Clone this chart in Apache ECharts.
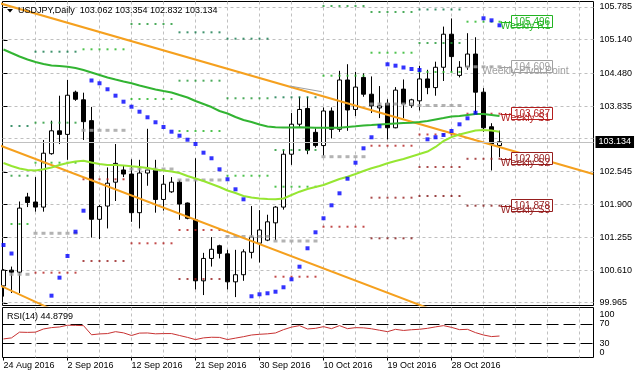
<!DOCTYPE html>
<html><head><meta charset="utf-8">
<script src="https://cdn.jsdelivr.net/npm/echarts@6/dist/echarts.min.js"></script>
<style>html,body{margin:0;padding:0;background:#fff}#c{width:636px;height:379px}</style>
</head><body><div id="c"></div>
<script>
// ---------------- DATA ----------------
const symbolName = 'USDJPY';
const timeframe = 'Daily';
const dates = ['2016-08-24','2016-08-25','2016-08-26','2016-08-28','2016-08-29','2016-08-30','2016-08-31','2016-09-01','2016-09-02','2016-09-04','2016-09-05','2016-09-06','2016-09-07','2016-09-08','2016-09-09','2016-09-11','2016-09-12','2016-09-13','2016-09-14','2016-09-15','2016-09-16','2016-09-18','2016-09-19','2016-09-20','2016-09-21','2016-09-22','2016-09-23','2016-09-25','2016-09-26','2016-09-27','2016-09-28','2016-09-29','2016-09-30','2016-10-02','2016-10-03','2016-10-04','2016-10-05','2016-10-06','2016-10-07','2016-10-09','2016-10-10','2016-10-11','2016-10-12','2016-10-13','2016-10-14','2016-10-16','2016-10-17','2016-10-18','2016-10-19','2016-10-20','2016-10-21','2016-10-23','2016-10-24','2016-10-25','2016-10-26','2016-10-27','2016-10-28','2016-10-30','2016-10-31','2016-11-01','2016-11-02','2016-11-03','2016-11-04'];
const opens  = [100.30,100.61,100.57,102.05,101.95,101.85,102.90,103.35,103.28,104.11,103.96,103.55,101.61,101.87,102.34,102.58,102.50,101.74,102.52,102.58,102.00,102.15,102.34,101.93,101.60,100.40,100.84,101.09,100.93,100.38,100.52,100.96,101.14,101.20,101.54,101.85,102.89,103.48,103.79,103.32,103.06,103.74,103.38,104.35,103.77,104.40,104.07,103.80,103.89,103.41,104.17,103.85,103.94,104.37,104.20,104.60,105.25,104.44,104.61,104.86,104.11,103.43,103.062];
const highs  = [100.63,100.68,101.96,102.13,102.44,103.17,103.55,104.04,104.35,104.14,104.10,103.82,101.89,102.63,103.09,102.66,102.79,102.78,103.39,102.78,102.48,102.44,102.38,101.94,102.81,100.95,101.26,101.11,101.01,101.01,101.02,101.87,101.79,101.70,101.87,102.98,103.70,104.02,104.02,103.40,103.81,103.81,104.53,104.66,104.51,104.48,104.42,104.23,103.97,104.21,104.36,103.98,104.63,104.55,104.71,105.40,105.56,104.72,105.27,105.19,104.19,103.50,103.354];
const lows   = [100.09,100.16,100.16,101.85,101.76,101.76,102.88,103.09,102.78,103.94,103.17,101.25,101.22,101.43,101.97,102.44,101.56,101.43,102.27,101.74,101.78,102.13,101.60,101.61,100.23,100.12,100.68,100.84,100.23,100.08,100.40,100.84,100.76,101.18,101.20,101.80,102.68,103.43,102.89,103.02,102.86,103.20,103.33,103.35,103.64,104.02,103.70,103.60,103.18,103.40,103.60,103.80,103.75,104.07,104.04,104.33,104.51,104.40,104.55,103.70,103.33,102.57,102.832];
const closes = [100.61,100.57,101.83,101.94,101.85,102.91,103.35,103.28,104.05,103.97,103.53,101.61,101.86,102.32,102.71,102.50,101.74,102.52,102.58,102.00,102.30,102.34,101.91,101.63,100.40,100.84,101.02,100.94,100.38,100.52,100.97,101.26,101.40,101.56,101.85,102.89,103.48,103.77,102.97,103.06,103.74,103.38,104.35,103.76,104.21,104.07,103.84,103.84,103.41,104.15,103.88,103.96,104.37,104.20,104.60,105.25,104.81,104.60,104.86,104.11,103.41,103.09,103.134];
const maSlow = [104.949,104.880,104.812,104.753,104.703,104.664,104.635,104.625,104.611,104.585,104.546,104.497,104.448,104.399,104.359,104.320,104.285,104.241,104.202,104.163,104.133,104.104,104.054,104.005,103.936,103.877,103.818,103.740,103.691,103.622,103.563,103.523,103.474,103.435,103.419,103.415,103.415,103.419,103.415,103.411,103.411,103.411,103.411,103.425,103.439,103.455,103.464,103.474,103.484,103.494,103.504,103.510,103.523,103.543,103.573,103.602,103.632,103.641,103.661,103.681,103.681,103.661,103.641];
const maFast = [102.717,102.658,102.609,102.579,102.570,102.593,102.629,102.678,102.717,102.747,102.762,102.727,102.697,102.678,102.678,102.668,102.652,102.638,102.619,102.589,102.570,102.550,102.520,102.461,102.412,102.363,102.304,102.245,102.176,102.127,102.068,102.039,102.019,102.009,102.003,102.019,102.088,102.153,102.206,102.245,102.285,102.344,102.403,102.448,102.501,102.560,102.613,102.658,102.711,102.756,102.796,102.845,102.894,102.943,103.032,103.150,103.228,103.278,103.317,103.356,103.366,103.356,103.333];
const sar = [101.105,100.937,null,null,null,null,100.108,100.462,100.888,101.366,101.779,104.340,104.285,104.167,104.041,103.923,103.824,103.726,103.616,103.518,103.425,103.333,103.254,103.175,103.091,102.920,102.810,102.593,102.397,102.200,102.003,100.096,100.135,100.155,100.186,100.273,100.430,100.678,101.040,101.354,101.630,101.885,102.121,102.408,102.723,103.006,103.223,103.439,104.658,104.631,104.595,104.566,104.546,103.183,103.223,103.268,103.346,103.478,103.596,103.706,105.563,105.523,105.425];
const rsi = [38.8,41.0,53.0,52.5,53.0,59.6,62.5,63.8,67.5,67.2,66.6,47.5,49.3,50.0,54.0,51.5,46.0,51.0,51.3,49.5,50.0,50.0,46.0,42.0,37.4,41.0,42.3,42.0,37.5,40.5,43.5,47.0,48.5,49.5,51.3,58.2,63.5,66.6,59.6,61.0,64.5,60.3,66.6,60.3,62.4,62.0,60.0,57.0,54.0,58.9,56.5,58.0,59.0,61.0,64.0,66.6,63.0,58.2,58.9,52.0,47.0,43.7,44.8799];
const rsiPeriod = 14;
const rsiLevels = [70, 30];
// weekly pivot levels, one entry per week segment (first/last bar index)
const pivotWeekFirst = [1,4,10,16,22,28,34,40,46,52,58];
const pivotWeekLast  = [3,9,15,21,27,33,39,45,51,57,62];
const pivotR3 = [103.445,104.906,null,null,105.287,105.162,104.009,null,null,105.736,null];
const pivotR2 = [102.467,103.510,null,105.451,104.336,103.990,102.973,105.805,105.687,105.077,null];
const pivotR1 = [101.518,102.723,104.953,103.976,103.346,102.467,102.251,104.434,104.886,104.507,105.496];
const pivotPP = [100.528,101.335,103.360,102.599,102.383,101.272,101.183,102.841,103.877,103.848,104.609];
const pivotS1 = [null,100.560,102.397,101.138,101.400,null,100.481,101.464,103.057,103.278,103.687];
const pivotS2 = [null,null,100.790,null,100.436,null,null,null,102.035,102.638,102.800];
const pivotS3 = [null,null,null,null,null,null,null,null,101.236,102.068,101.878];
const weeklyLevelNames = ['Weekly R1','Weekly Pivot Point','Weekly S1','Weekly S2','Weekly S3'];
const weeklyLevelValues = [105.496,104.609,103.687,102.800,101.878];
// trend lines: [barIndex, price] end points
const trendUpper = [[-0.45,105.858],[73.7,102.501]];
const trendMiddle = [[-0.45,103.061],[73.7,98.63]];
const trendLower = [[-0.45,100.308],[73.7,94.95]];
const trendGray = [[35.8,104.231],[39.8,104.119]];
// axis tick labels
const priceGridLabels = ['99.965','100.610','101.255','101.900','102.545','103.190','103.835','104.480','105.140','105.785'];
const priceAxisLabels = ['99.965','100.610','101.255','101.900','102.545','103.835','104.480','105.140','105.785'];
const rsiAxisLabels = ['100','70','30','0'];
const dateLabelBars = [0,8,16,24,32,40,48,56];

// ---------------- STYLE / LAYOUT ----------------
const FONT = '"Liberation Sans", Arial, sans-serif';
const PMIN = 99.9147, PMAX = 105.8932;
const XMIN = -0.125, XMAX = 73.75;
const RMAX = 104.5;
const C = {
  grid:'#c0c0c0', frame:'#000', orange:'#f5a01e', maSlow:'#32b432', maFast:'#96e632', sar:'#0000ff',
  r1:'#22b422', r2:'#1e9632', r3:'#10784a', pp:'#a0a0a0', s1:'#b41e1e', s2:'#961e1e', s3:'#801414', rsi:'#c83232', cur:'#c0c0c0'
};
const weeklyColors = [C.r1, C.pp, C.s1, C.s2, C.s2];
const months = ['Jan','Feb','Mar','Apr','May','Jun','Jul','Aug','Sep','Oct','Nov','Dec'];
function fmtDate(s){ const p = s.split('-'); return (+p[2]) + ' ' + months[+p[1]-1] + ' ' + p[0]; }
const N = dates.length;
const last = N - 1;

const candleData = dates.map((d,i)=>[i, opens[i], closes[i], lows[i], highs[i]]);
const sarData = []; sar.forEach((v,i)=>{ if (v!=null) sarData.push([i, v]); });
function levelDots(arr){ const out=[]; arr.forEach((v,w)=>{ if(v==null) return; for(let b=pivotWeekFirst[w]; b<=pivotWeekLast[w]; b++) out.push([b, v]); }); return out; }
const vGridBars = []; for (let b = 4; b < XMAX; b += 4) vGridBars.push(b);

function hLines(xi, yi, vals, style, z){
  return { type:'custom', xAxisIndex:xi, yAxisIndex:yi, z:z, silent:true, clip:false,
    data: vals.map(v=>[0, v]),
    renderItem(params, api){
      const cs = params.coordSys;
      const y = Math.round(api.coord([0, api.value(1)])[1] - 0.5) + 0.5;
      return { type:'line', shape:{x1:cs.x, y1:y, x2:cs.x+cs.width, y2:y}, style:Object.assign({fill:null}, style) };
    }};
}
function vLines(xi, yi, vals, style, z){
  return { type:'custom', xAxisIndex:xi, yAxisIndex:yi, z:z, silent:true, clip:false,
    data: vals.map(v=>[v, 0]),
    renderItem(params, api){
      const cs = params.coordSys;
      const x = Math.round(api.coord([api.value(0), 0])[0] - 0.5) + 0.5;
      return { type:'line', shape:{x1:x, y1:cs.y, x2:x, y2:cs.y+cs.height}, style:Object.assign({fill:null}, style) };
    }};
}
function trend(pts, color, width, z){
  return { type:'line', xAxisIndex:0, yAxisIndex:0, data:pts, showSymbol:false, symbol:'none', z:z, silent:true,
    lineStyle:{color:color, width:width}, clip:true };
}
function dots(arr, color, size, z){
  return { type:'scatter', xAxisIndex:0, yAxisIndex:0, data:levelDots(arr), symbol:'rect', symbolSize:size, z:z, silent:true,
    itemStyle:{color:color} };
}

const gridStyle = {stroke:C.grid, lineWidth:1, lineDash:[3,3]};
const option = {
  animation:false,
  backgroundColor:'#fff',
  textStyle:{fontFamily:FONT},
  grid:[
    {left:2.5, right:42.5, top:1.5, height:304, show:true, borderColor:C.frame, borderWidth:1, backgroundColor:'#fff'},
    {left:2.5, right:42.5, top:307.5, height:50, show:true, borderColor:C.frame, borderWidth:1, backgroundColor:'#fff'}
  ],
  xAxis:[
    {type:'value', gridIndex:0, min:XMIN, max:XMAX, show:false},
    {type:'value', gridIndex:1, min:XMIN, max:XMAX, axisLine:{show:false}, splitLine:{show:false},
     axisTick:{show:true, customValues:dateLabelBars, length:3, lineStyle:{color:'#000'}},
     axisLabel:{customValues:dateLabelBars, formatter:v=>fmtDate(dates[Math.round(v)]), align:'left', color:'#000', fontSize:9, margin:4, fontFamily:FONT}}
  ],
  yAxis:[
    {type:'value', gridIndex:0, min:PMIN, max:PMAX, position:'right', axisLine:{show:false}, splitLine:{show:false},
     axisTick:{show:true, customValues:priceAxisLabels.map(Number), length:4, lineStyle:{color:'#000'}},
     axisLabel:{customValues:priceAxisLabels.map(Number), formatter:v=>v.toFixed(3), color:'#000', fontSize:9, margin:6, fontFamily:FONT}},
    {type:'value', gridIndex:1, min:0, max:RMAX, position:'right', offset:0, axisLine:{show:false}, splitLine:{show:false},
     axisTick:{show:true, customValues:[70,30], length:4, lineStyle:{color:'#000'}},
     axisLabel:{customValues:[Number(rsiAxisLabels[1]), Number(rsiAxisLabels[2])], formatter:v=>String(v), color:'#000', fontSize:9, margin:6, fontFamily:FONT}},
    {type:'value', gridIndex:1, min:0, max:RMAX, position:'right', offset:0, axisLine:{show:false}, splitLine:{show:false}, axisTick:{show:false},
     axisLabel:{customValues:[Number(rsiAxisLabels[0])], formatter:v=>String(v), verticalAlign:'top', color:'#000', fontSize:9, margin:6, fontFamily:FONT}},
    {type:'value', gridIndex:1, min:0, max:RMAX, position:'right', offset:0, axisLine:{show:false}, splitLine:{show:false}, axisTick:{show:false},
     axisLabel:{customValues:[Number(rsiAxisLabels[3])], formatter:v=>String(v), verticalAlign:'bottom', color:'#000', fontSize:9, margin:6, fontFamily:FONT}}
  ],
  graphic:[
    {type:'polygon', shape:{points:[[7,9],[13,9],[10,12.5]]}, style:{fill:'#000'}, z:100},
    {type:'text', x:18, y:11, style:{text:symbolName+','+timeframe+'  '+[opens[last],highs[last],lows[last],closes[last]].map(v=>v.toFixed(3)).join(' '), font:'9px '+FONT, fill:'#000', verticalAlign:'middle'}, z:100},
    {type:'text', x:7, y:317, style:{text:'RSI('+rsiPeriod+') '+rsi[last].toFixed(4), font:'9px '+FONT, fill:'#000', verticalAlign:'middle'}, z:100}
  ],
  series:[
    vLines(0,0,vGridBars,gridStyle,0),
    hLines(0,0,priceGridLabels.map(Number),gridStyle,0),
    vLines(1,1,vGridBars,gridStyle,0),
    hLines(1,1,rsiLevels,{stroke:'#000', lineWidth:1, lineDash:[12,5]},1),
    {type:'candlestick', xAxisIndex:0, yAxisIndex:0, data:candleData, encode:{x:0, y:[1,2,3,4]}, barWidth:4, z:2, silent:true,
     itemStyle:{color:'#fff', color0:'#000', borderColor:'#000', borderColor0:'#000', borderColorDoji:'#000', borderWidth:1},
     markLine:{silent:true, symbol:'none', animation:false,
       data:[{yAxis:closes[last]}],
       lineStyle:{color:C.cur, type:'solid', width:1},
       label:{show:true, position:'end', distance:2, formatter:()=>closes[last].toFixed(3), color:'#fff', backgroundColor:'#000', padding:[2,3,1,3], fontSize:9, fontFamily:FONT}}},
    dots(pivotR3, C.r3, 2, 3), dots(pivotR2, C.r2, 2, 3), dots(pivotR1, C.r1, 2, 3),
    dots(pivotPP, C.pp, [4,3], 3),
    dots(pivotS1, C.s1, 2, 3), dots(pivotS2, C.s2, 2, 3), dots(pivotS3, C.s3, 2, 3),
    trend(trendUpper, C.orange, 2, 4), trend(trendMiddle, C.orange, 2, 4), trend(trendLower, C.orange, 2, 4),
    trend(trendGray, '#a0a0a0', 1, 4),
    {type:'line', xAxisIndex:0, yAxisIndex:0, data:maSlow.map((v,i)=>[i,v]), showSymbol:false, symbol:'none', z:5, silent:true, lineStyle:{color:C.maSlow, width:2}},
    {type:'line', xAxisIndex:0, yAxisIndex:0, data:maFast.map((v,i)=>[i,v]), showSymbol:false, symbol:'none', z:5, silent:true, lineStyle:{color:C.maFast, width:2}},
    {type:'scatter', xAxisIndex:0, yAxisIndex:0, data:sarData, symbol:'rect', symbolSize:4, z:6, silent:true, itemStyle:{color:C.sar}},
    {type:'custom', xAxisIndex:0, yAxisIndex:0, z:7, silent:true, clip:false,
     data:weeklyLevelValues.map((v,k)=>[last, v, k]),
     renderItem(params, api){
       const k = api.value(2), v = api.value(1);
       const p = api.coord([api.value(0), v]);
       const col = weeklyColors[k];
       const y = Math.round(p[1]) + 0.5, x0 = Math.round(p[0]) + 0.5;
       return {type:'group', children:[
         {type:'line', shape:{x1:x0, y1:y, x2:x0+11, y2:y}, style:{stroke:col, lineWidth:1}},
         {type:'rect', shape:{x:x0+11, y:y-7, width:41, height:12}, style:{fill:'#fff', stroke:col, lineWidth:1}},
         {type:'text', style:{text:v.toFixed(3), x:x0+13.5, y:y-0.5, fill:col, font:'10px '+FONT, verticalAlign:'middle'}},
         {type:'text', style:{text:weeklyLevelNames[k], x:x0+25, y:y-1.5, fill:col, font:'10.4px '+FONT, align:'center', verticalAlign:'top'}}
       ]};
     }},
    {type:'line', xAxisIndex:1, yAxisIndex:1, data:rsi.map((v,i)=>[i,v]), showSymbol:false, symbol:'none', z:5, silent:true, lineStyle:{color:C.rsi, width:1}}
  ]
};
const chart = echarts.init(document.getElementById('c'));
chart.setOption(option);
</script></body></html>
